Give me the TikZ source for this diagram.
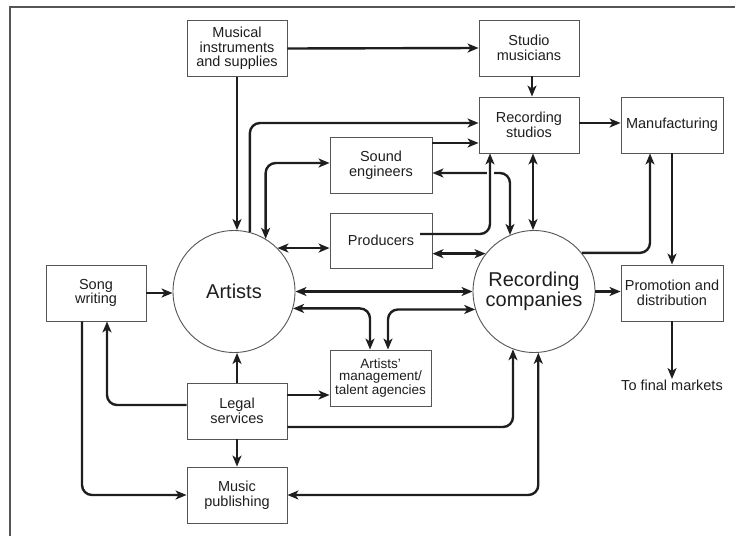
\documentclass[tikz,border=0pt]{standalone}
\usepackage{fontspec}
\setmainfont{Liberation Sans}
\usetikzlibrary{arrows.meta}
\definecolor{ink}{HTML}{1E1E1E}
\definecolor{edge}{HTML}{555555}
\begin{document}
\begin{tikzpicture}[x=1pt,y=-1pt,
  >={Stealth[length=11pt,width=9pt,inset=3pt]},
  box/.style={draw=edge, line width=0.9pt, minimum width=100pt, minimum height=56pt, inner sep=0pt, align=center, text=ink, font=\fontsize{14.5}{14.5}\selectfont},
  wbox/.style={box, minimum width=102pt},
  hub/.style={circle, draw=edge, line width=0.9pt, minimum size=122pt, inner sep=0pt, align=center, text=ink, font=\fontsize{20}{20}\selectfont},
  conn/.style={draw=ink, line width=2.4pt, rounded corners=10pt, ->},
  conn2/.style={conn, <->}
]
\useasboundingbox (0,0) rectangle (735,536);
\draw[edge, line width=1.2pt] (10,536) -- (10,7) -- (735,7);

\node[box] (mus) at (237,48.5) {Musical\\instruments\\and supplies};
\node[box] (studmus) at (529,48) {Studio\\musicians};
\node[box] (recstud) at (529,125) {Recording\\studios};
\node[wbox] (manuf) at (672,125) {Manufacturing};
\node[wbox] (sound) at (381,165) {Sound\\engineers};
\node[wbox, minimum height=55pt] (prod) at (381,240.5) {Producers};
\node[box] (song) at (96,293) {Song\\writing};
\node[wbox] (promo) at (672,293) {Promotion and\\distribution};
\node[box, minimum width=101pt, font=\fontsize{13.5}{12.5}\selectfont] (mgmt) at (380.5,378) {Artists'\\management/\\talent agencies};
\node[box] (legal) at (237,411) {Legal\\services};
\node[box] (pub) at (237,495) {Music\\publishing};
\node[hub] (artists) at (234,291.5) {Artists};
\node[hub] (reccomp) at (534,291.5) {Recording\\companies};
\node[text=ink, font=\fontsize{14.5}{14.5}\selectfont, anchor=north, inner sep=1pt] (final) at (672,379) {To final markets};

\coordinate (prodout) at (420,234);
\coordinate (prodin) at ([xshift=-39pt]recstud.south);

% top
\draw[conn] (mus.east) -- (studmus.west);
\draw[conn] (mus.south) -- (mus.south |- artists.north);
\draw[conn] (artists.75) |- (recstud.west |- 0,123);
\draw[conn2] (sound.west |- 0,163) -| (artists.59.5);
\draw[conn2] (artists.45.5) -- (artists.45.5 -| prod.west);
\draw[conn2] (prod.east |- reccomp.142) -- (reccomp.142);
\draw[conn] (sound.east |- 0,143) -- (recstud.west |- 0,143);
\draw[conn2] (sound.east |- 0,173) -| (reccomp.113);
\draw[white, line width=7pt] (prodin |- 0,166) -- (prodin |- 0,180);
\draw[conn] (prodout) -| (prodin);
\draw[conn] (recstud.east |- 0,123) -- (manuf.west |- 0,123);
\draw[conn] ([xshift=3pt]studmus.south) -- ([xshift=3pt]recstud.north);
\draw[conn2] ([xshift=4pt]recstud.south) -- ([xshift=4pt]recstud.south |- reccomp.north);
\draw[conn] (reccomp.39) -| ([xshift=-22pt]manuf.south);
\draw[conn] (manuf.south) -- (promo.north);
\draw[conn] (reccomp.east) -- (reccomp.east -| promo.west);
\draw[conn] (promo.south) -- (final.north);

% middle
\draw[conn] (song.east) -- (song.east -| artists.west);
\draw[conn2] (artists.east) -- (reccomp.west);
\draw[conn2] (artists.-16.7) -| ([xshift=-10.5pt]mgmt.north);
\draw[conn2] (reccomp.197.2) -| ([xshift=7.5pt]mgmt.north);

% bottom
\draw[conn] (legal.north) -- (legal.north |- artists.south);
\draw[conn] ([yshift=6pt]legal.west) -| ([xshift=11pt]song.south);
\draw[conn] (legal.east |- 0,395) -- (mgmt.west |- 0,395);
\draw[conn] (legal.east |- 0,427) -| (reccomp.250);
\draw[conn] (legal.south) -- (pub.north);
\draw[conn] ([xshift=-14pt]song.south) |- (pub.west);
\draw[conn2] (pub.east) -| (reccomp.274);
\end{tikzpicture}
\end{document}
